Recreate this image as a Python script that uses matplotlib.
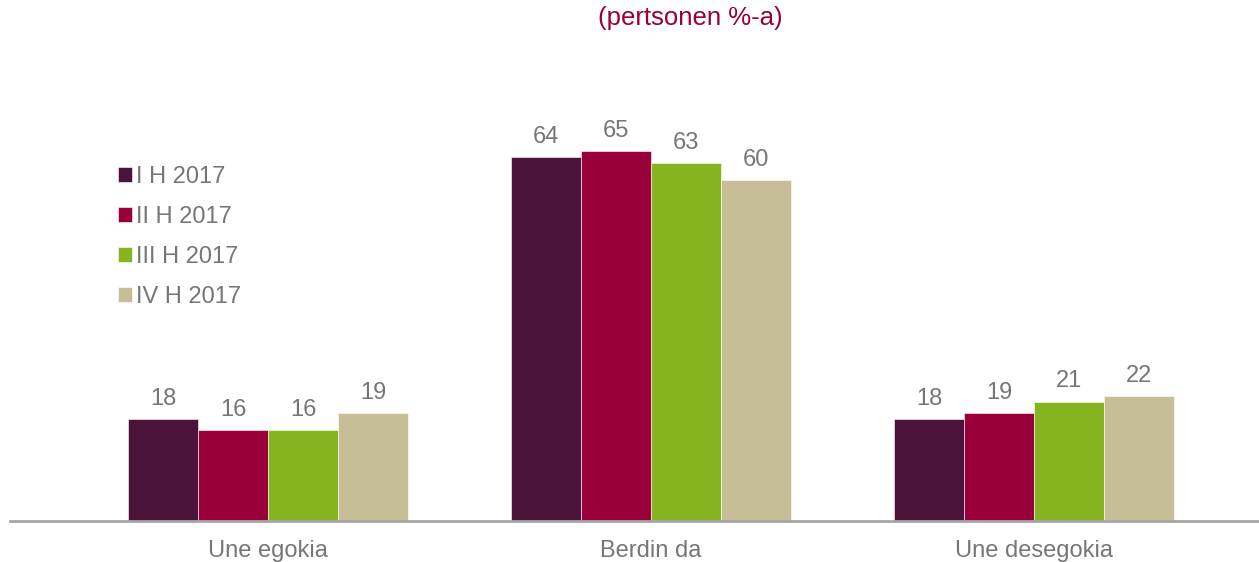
import matplotlib.pyplot as plt
import numpy as np

plt.rcParams['font.family'] = ['Liberation Sans', 'DejaVu Sans']

categories = ['Une egokia', 'Berdin da', 'Une desegokia']
series = ['I H 2017', 'II H 2017', 'III H 2017', 'IV H 2017']
values = [
    [18, 64, 18],
    [16, 65, 19],
    [16, 63, 21],
    [19, 60, 22],
]
colors = ['#4B123A', '#990039', '#86B320', '#C6BE97']
text_gray = '#767676'

W, H = 1259, 562
fig = plt.figure(figsize=(W / 100, H / 100), dpi=100)
# axes box in pixel coords: left 10, right 1259, baseline 521, top 66
ax = fig.add_axes([10 / W, (H - 521) / H, 1249 / W, 455 / H])

x = np.arange(len(categories))
bw = 70 / 383
for i, (name, vals) in enumerate(zip(series, values)):
    pos = x + (i - 1.5) * bw
    bars = ax.bar(pos, vals, width=bw, color=colors[i], label=name,
                  edgecolor='white', linewidth=0.4)
    for b, v in zip(bars, vals):
        ax.text(b.get_x() + b.get_width() / 2, v + 1.6, str(v),
                ha='center', va='bottom', fontsize=17, color=text_gray)

ax.set_xlim(-0.6736, 2.587)
ax.set_ylim(0, 80)
ax.set_xticks(x)
ax.set_xticklabels(categories, fontsize=17, color=text_gray)
ax.tick_params(axis='x', length=0, pad=14)
ax.set_yticks([])
for s in ['top', 'right', 'left']:
    ax.spines[s].set_visible(False)
ax.spines['bottom'].set_color('#A6A6A6')
ax.spines['bottom'].set_linewidth(2)

fig.text(690 / W, 1 - 18 / H, '(pertsonen %-a)', ha='center', va='center',
         fontsize=18.5, color='#990039')

leg = fig.legend(loc='upper left', bbox_to_anchor=(97 / W, 1 - 145 / H),
                 frameon=False, fontsize=17, handlelength=0.6,
                 handleheight=0.6, handletextpad=0.15, labelspacing=0.76,
                 labelcolor=text_gray)

fig.savefig('out.png', dpi=100)
